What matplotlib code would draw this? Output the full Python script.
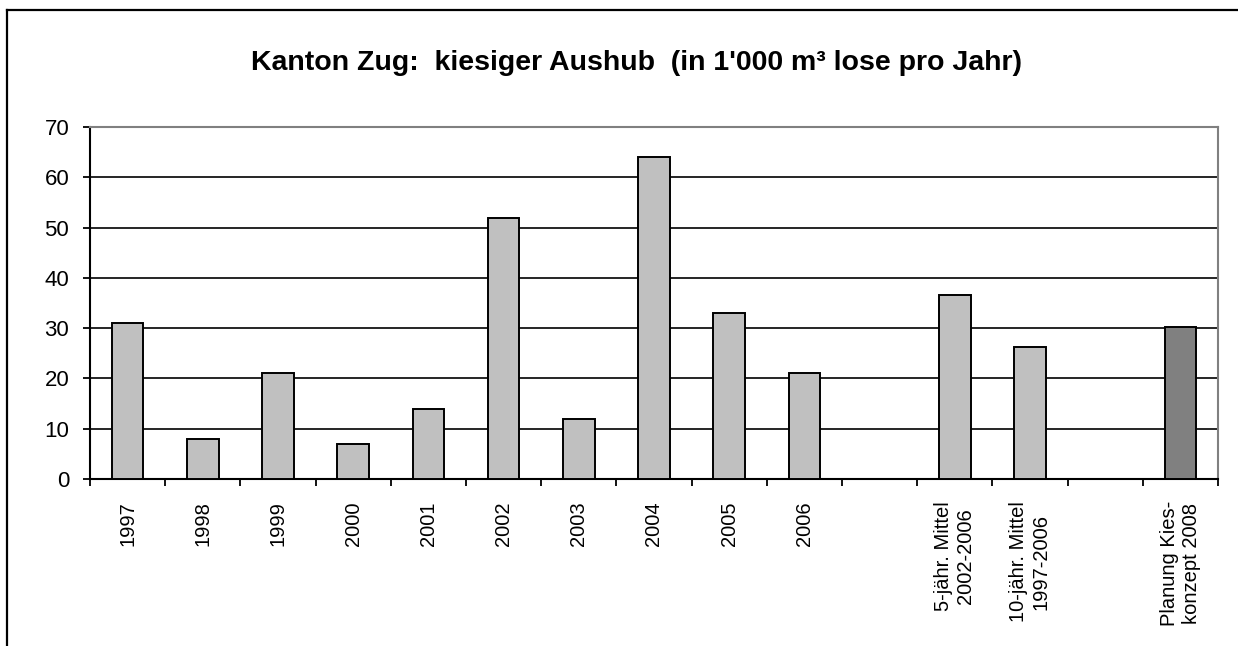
import numpy as np
import matplotlib
matplotlib.use("Agg")
import matplotlib.pyplot as plt
from matplotlib.lines import Line2D

plt.rcParams['font.family'] = ['Liberation Sans', 'DejaVu Sans']

# categories (empty strings are the gaps in the chart)
labels = ['1997', '1998', '1999', '2000', '2001', '2002', '2003', '2004',
          '2005', '2006', '', '5-jähr. Mittel\n2002-2006',
          '10-jähr. Mittel\n1997-2006', '', 'Planung Kies-\nkonzept 2008']
values = [31, 8, 21, 7, 14, 52, 12, 64, 33, 21, None, 36.5, 26.3, None, 30.3]
colors = ['#C0C0C0'] * 14 + ['#808080']

fig = plt.figure(figsize=(12.38, 6.46), dpi=100)
ax = fig.add_axes([90 / 1238, 1 - 479 / 646, (1218 - 90) / 1238, (479 - 127) / 646])

# bars
for i, v in enumerate(values):
    if v is None:
        continue
    ax.bar(i, v, width=0.42, color=colors[i], edgecolor='black', linewidth=1.4, zorder=3)

ax.set_xlim(-0.5, len(labels) - 0.5)
ax.set_ylim(0, 70)
ax.set_yticks(np.arange(0, 71, 10))
ax.yaxis.grid(True, color='black', linewidth=1.2, zorder=0)

ax.set_xticks(np.arange(len(labels)))
ax.set_xticklabels(labels, rotation=90, va='top', ha='center', multialignment='center',
                   fontsize=14.5, linespacing=1.2)
ax.set_xticks(np.arange(-0.5, len(labels)), minor=True)
ax.tick_params(axis='x', which='major', length=0, pad=16)
ax.tick_params(axis='x', which='minor', length=5, width=1.3, direction='out')
ax.tick_params(axis='y', length=5, width=1.3, direction='out', pad=10, labelsize=16)

for s in ['left', 'bottom']:
    ax.spines[s].set_linewidth(1.5)
    ax.spines[s].set_color('black')
for s in ['top', 'right']:
    ax.spines[s].set_linewidth(1.5)
    ax.spines[s].set_color('#808080')

fig.text(0.514, 0.902, "Kanton Zug:  kiesiger Aushub  (in 1'000 m³ lose pro Jahr)",
         ha='center', va='center', fontsize=20.5, fontweight='bold')

# outer chart frame (only top and left edges visible)
fig.add_artist(Line2D([7 / 1238, 7 / 1238], [0, 1 - 10 / 646], color='black', linewidth=1.6))
fig.add_artist(Line2D([7 / 1238, 1], [1 - 10 / 646, 1 - 10 / 646], color='black', linewidth=1.6))

fig.savefig('out.png', dpi=100)
